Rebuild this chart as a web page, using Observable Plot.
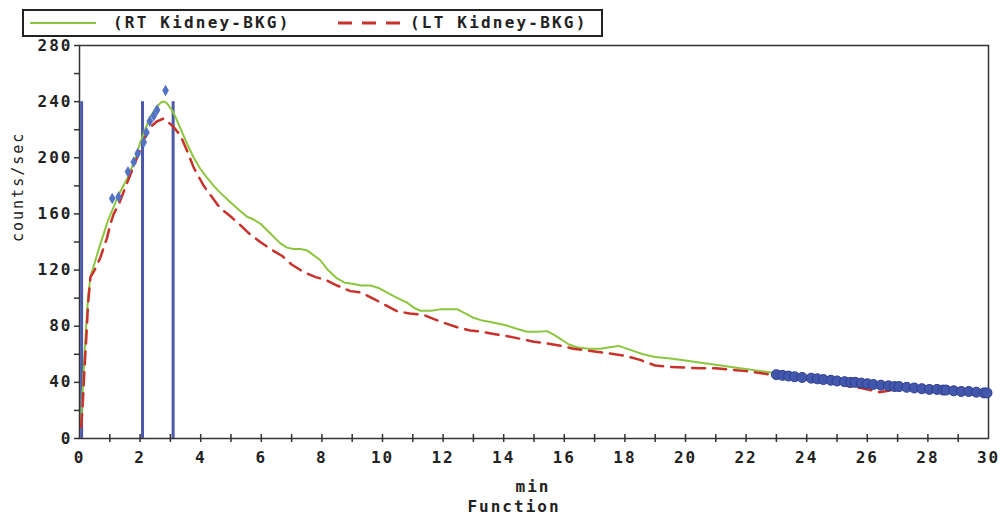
<!DOCTYPE html>
<html><head><meta charset="utf-8">
<script src="https://cdn.jsdelivr.net/npm/d3@7"></script>
<script src="https://cdn.jsdelivr.net/npm/@observablehq/plot@0.6"></script>
<style>
body{margin:0;background:#fff;}
#wrap{position:relative;width:1005px;height:523px;overflow:hidden;}
#legend{position:absolute;left:22px;top:9px;width:577px;height:24px;border:2px solid #222;background:#fff;font:bold 16px "DejaVu Sans Mono";letter-spacing:2.2px;color:#222;}
#legend .item{position:absolute;top:0;height:24px;line-height:24px;white-space:nowrap;}
#legend svg{position:absolute;top:0;}
</style></head>
<body>
<div id="wrap"></div>
<script>
// ---- data ----
const seriesNames = ["(RT Kidney-BKG)", "(LT Kidney-BKG)"];
const rtTime = [0.05,0.1,0.16,0.22,0.28,0.36,0.5,0.65,0.8,0.95,1.13,1.3,1.57,1.8,2.01,2.18,2.34,2.5,2.62,2.72,2.8,2.88,2.95,3.05,3.17,3.33,3.55,3.77,3.99,4.2,4.43,4.65,4.9,5.2,5.53,5.75,5.97,6.3,6.63,6.85,7.07,7.3,7.51,7.7,7.95,8.2,8.5,8.75,9.05,9.3,9.6,9.9,10.15,10.5,10.8,11.05,11.25,11.6,11.9,12.2,12.47,12.75,13.0,13.3,13.56,13.8,14.1,14.45,14.77,15.1,15.43,15.65,15.87,16.15,16.42,16.8,17.2,17.5,17.8,18.2,18.6,19.0,19.5,20,20.5,21,21.5,22,22.5,23,23.5,24,24.5,25,25.5,26,26.5,27,27.5,28,28.5,29,29.5,30];
const rtCounts = [8,32,58,80,100,115,125,136,146,156,165,174,185,197,211,221,229,235,238,240,240,239,237,234,229,221,210,200,192,186,180,175,170,164,158,156,153,146,139,136,135,135,134,131,127,120,114,111,110,109,109,107,104,100,97,93,91,91,92,92,92,89,86,84,83,82,80.5,78,76,76,76.5,74,71,67,65,64,64,65,66,63,60,58,57,55.5,54,52.5,51,49.5,48,46.5,45,43.5,42.5,41,40,39,38,37,36,35,34.5,34,33,32.5];
const ltTime = [0.05,0.1,0.16,0.22,0.28,0.36,0.5,0.69,0.91,1.02,1.13,1.3,1.57,1.9,2.1,2.23,2.4,2.56,2.78,2.95,3.1,3.33,3.55,3.77,4.1,4.54,4.65,5.0,5.31,5.6,5.97,6.3,6.69,7.0,7.4,7.8,8.17,8.5,8.94,9.3,9.71,10.1,10.48,10.9,11.36,11.7,12.13,12.5,12.9,13.3,13.67,14.1,14.55,15.0,15.49,15.9,16.31,17,17.5,18,18.5,19,19.5,20,20.5,21,21.5,22,22.5,23,23.5,24,24.5,25,25.4,25.8,26.2,26.4,26.7,27,27.5,28,28.5,29,29.5,30];
const ltCounts = [8,22,48,70,95,115,120,129,143,153,160,167,182,200,211,219,223,226,228,225,222,216,205,193,180,167,164,158,152,146,140,135,130,124,118.5,115,112.5,109,105,104,99.5,95,90.7,89,88,85,81.7,79,77,76,74.5,73,71,69,67.5,66,64,62,60.5,59,56,52,51,50.5,50,50,49,48,46.5,45,43.5,42,41,40,37,36,34,33,34,36,35,34,33,32,31.5,31];
const riseTime = [1.08,1.29,1.6,1.79,1.92,2.12,2.21,2.32,2.45,2.56,2.84];
const riseCounts = [171,172,190,197,203,211,218,226,230,234,248];
const tailTime = [23.0,23.2,23.4,23.6,23.85,24.15,24.35,24.55,24.8,25.0,25.25,25.45,25.6,25.8,26.0,26.2,26.45,26.7,26.9,27.05,27.3,27.55,27.8,28.05,28.3,28.5,28.6,28.85,29.1,29.35,29.6,29.85,29.95];
const tailCounts = [45.5,45,44.5,44,43.5,43,42.5,42,41.5,41,40.5,40,40,39.5,39,38.5,38,37.5,37,37,36.5,36,35.5,35,35,34.5,34.5,34,33.5,33.5,33,32.5,32.5];
const markerTimes = [0.07, 2.08, 3.09];
const markerTop = 240;
const xLabelTicks = [0,2,4,6,8,10,12,14,16,18,20,22,24,26,28,30];
const xMinorTicks = [1,2,3,4,5,6,7,8,9,10,11,12,13,14,15,16,17,18,19,20,21,22,23,24,25,26,27,28,29];
const yLabelTicks = [0,40,80,120,160,200,240,280];
const yMinorTicks = [0,20,40,60,80,100,120,140,160,180,200,220,240,260,280];
const yTitle = "counts/sec";
const xTitle1 = "min";
const xTitle2 = "Function";

const rt = rtTime.map((t,i)=>({t, v: rtCounts[i]}));
const lt = ltTime.map((t,i)=>({t, v: ltCounts[i]}));
const rise = riseTime.map((t,i)=>({t, v: riseCounts[i]}));
const tail = tailTime.map((t,i)=>({t, v: tailCounts[i]}));

const chart = Plot.plot({
  width: 1005, height: 523,
  marginLeft: 79, marginRight: 17, marginTop: 45, marginBottom: 85,
  x: {domain: [0, 30]},
  y: {domain: [0, 280]},
  style: {fontFamily: "DejaVu Sans Mono", fontSize: "16px", fontWeight: "bold", color: "#222", background: "transparent", letterSpacing: "2px"},
  marks: [
    Plot.frame({stroke: "#333", strokeWidth: 1.5}),
    Plot.axisY(yLabelTicks, {tickSize: 0, tickPadding: 7, label: null}),
    Plot.axisX(xLabelTicks, {tickSize: 0, tickPadding: 13, label: null}),
    Plot.tickY(yMinorTicks, {y: d => d, insetRight: 904, dx: -5, stroke: "#333", strokeWidth: 1.5}),
    Plot.tickX(xMinorTicks, {x: d => d, insetTop: 385, dy: 4, stroke: "#333", strokeWidth: 1.5}),
    Plot.ruleX(markerTimes, {x: d => d, y1: 0, y2: markerTop, stroke: "#4a5aa8", strokeWidth: 3}),
    Plot.line(rt, {x: "t", y: "v", stroke: "#8cc63f", strokeWidth: 2}),
    Plot.line(lt, {x: "t", y: "v", stroke: "#c8322a", strokeWidth: 2.5, strokeDasharray: "13,8"}),
    Plot.dot(rise, {x: "t", y: "v", symbol: "diamond", r: 3.5, fill: "#5472c4"}),
    Plot.dot(tail, {x: "t", y: "v", r: 5, fill: "#4357ad", stroke: "#2f3f8f", strokeWidth: 1}),
    Plot.text([yTitle], {text: d => d, frameAnchor: "left", dx: -61, rotate: -90, fontWeight: "normal", fontSize: 15, letterSpacing: "1.5px"}),
    Plot.text([xTitle1], {text: d => d, frameAnchor: "bottom", dx: -1, dy: 53}),
    Plot.text([xTitle2], {text: d => d, frameAnchor: "bottom", dx: -20, dy: 73})
  ]
});
const wrap = document.getElementById("wrap");
wrap.appendChild(chart);

// legend
const legend = document.createElement("div");
legend.id = "legend";
legend.innerHTML = `
  <svg width="70" height="24" style="left:4px"><line x1="2" x2="68" y1="12" y2="12" stroke="#8cc63f" stroke-width="2"/></svg>
  <div class="item" style="left:89px">${seriesNames[0]}</div>
  <svg width="70" height="24" style="left:312px"><line x1="2" x2="66" y1="12" y2="12" stroke="#c8322a" stroke-width="3" stroke-dasharray="14,10"/></svg>
  <div class="item" style="left:386px">${seriesNames[1]}</div>`;
wrap.appendChild(legend);
</script>
</body></html>
